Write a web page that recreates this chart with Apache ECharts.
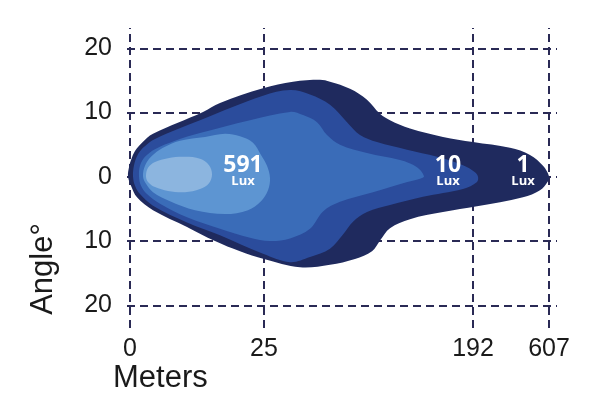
<!DOCTYPE html>
<html>
<head>
<meta charset="utf-8">
<script src="https://cdn.jsdelivr.net/npm/echarts@6/dist/echarts.min.js"></script>
<style>html,body{margin:0;padding:0;background:#fff}#c{width:600px;height:409px}</style>
</head>
<body>
<div id="c"></div>
<script>
// x tick positions (axis units) and their labels in meters
const meterLabels = ['0', '25', '192', '607'];
const meterPos = [0, 134, 343, 419];
// angle ticks (degrees)
const angleTicks = [-20, -10, 0, 10, 20];
// isolux labels
const luxValues = ['591', '10', '1'];
const luxX = [113, 318, 393];
const luxY = [0.9, 0.9, 0.9];

// contours: [distance position, angle in degrees]
const contour1Lux = [
  [-2,0.1],[-1,1.5],[1,2.6],[5,4.0],[12,5.3],[23,6.7],[73,10.1],[90,11.5],[133,13.8],[163,14.8],[190,15.1],[200,14.8],
  [220,13.7],[237,12.0],[250,9.8],[260,8.8],[280,7.5],[313,6.2],[343,5.4],[380,4.5],[400,3.4],[413,1.7],[419,0.1],
  [418,-0.7],[410,-2.1],[393,-3.2],[347,-4.6],[313,-5.5],[280,-6.6],[260,-8.0],[250,-9.9],[242,-11.6],[225,-12.8],
  [200,-13.7],[170,-14.1],[134,-12.8],[110,-11.6],[85,-10.0],[57,-7.8],[23,-5.2],[7,-3.2],[1,-1.4]
];
const contour10Lux = [
  [3,0.1],[4,1.8],[7,3.2],[13,4.5],[25,5.9],[70,8.8],[133,12.6],[160,13.5],[180,12.8],[200,11.2],[217,8.5],[230,6.5],
  [247,5.4],[277,4.2],[307,3.1],[333,1.8],[345,0.7],[348,0],
  [347,-0.8],[333,-1.9],[293,-3.1],[260,-4.4],[237,-5.5],[223,-7.0],[213,-9.0],[200,-11.2],[180,-12.5],[160,-13.3],
  [133,-12.0],[90,-9.1],[57,-7.1],[23,-4.5],[10,-2.7],[5,-1.4]
];
const contourMid = [
  [9,0.1],[10,1.7],[15,3.1],[25,4.3],[45,5.6],[70,6.8],[120,8.8],[160,10.1],[173,9.6],[187,8.5],[197,6.5],[210,5.0],
  [237,3.7],[270,2.6],[287,1.5],[294,0.1],
  [290,-0.3],[273,-1.0],[243,-2.4],[210,-3.9],[193,-5.4],[180,-8.1],[160,-9.6],[140,-10.0],[120,-9.5],[90,-8.1],
  [57,-6.3],[30,-4.2],[17,-2.7],[11,-1.4]
];
const contour591Lux = [
  [13,0.1],[15,1.7],[21,3.1],[33,4.5],[50,5.6],[75,6.2],[95,6.7],[110,6.3],[123,5.3],[131,3.4],[137,1.7],[140,-0.2],
  [138,-2.1],[131,-3.8],[118,-5.2],[95,-5.8],[65,-5.2],[40,-3.8],[23,-2.4],[16,-1.1]
];
const contourCore = [
  [16,0.1],[18,1.4],[25,2.3],[38,2.9],[55,3.1],[70,2.8],[79,1.8],[82,0.4],
  [79,-1.0],[70,-1.9],[55,-2.4],[38,-2.2],[25,-1.6],[18,-0.8]
];

const contours = [contour1Lux, contour10Lux, contourMid, contour591Lux, contourCore];
const colors = ['#1f2a5e', '#2b4c9c', '#3a6cb8', '#5d95d2', '#8cb5df'];

const chart = echarts.init(document.getElementById('c'));

const gridLine = { color: '#2a2a55', width: 2, type: [8, 5] };

const contourSeries = contours.map((ct, i) => ({
  type: 'custom',
  z: 5 + i,
  silent: true,
  data: ct,
  encode: { x: 0, y: 1 },
  renderItem: function (params, api) {
    if (params.dataIndex !== 0) return null;
    const pts = ct.map(p => api.coord(p));
    return { type: 'polygon', shape: { points: pts, smooth: 0.35 }, style: { fill: colors[i] } };
  }
}));

const option = {
  animation: false,
  backgroundColor: '#fff',
  grid: { left: 120, right: 40, top: 28, bottom: 81 },
  xAxis: {
    type: 'value', min: -10, max: 430,
    axisLine: { show: false }, axisTick: { show: false }, splitLine: { show: false },
    axisLabel: {
      customValues: meterPos,
      formatter: v => meterLabels[meterPos.indexOf(v)] ?? '',
      fontSize: 25, color: '#1a1a1a', fontFamily: 'Liberation Sans', margin: 9
    }
  },
  yAxis: {
    type: 'value', min: -23.54, max: 23.16,
    axisLine: { show: false }, axisTick: { show: false }, splitLine: { show: false },
    axisLabel: {
      customValues: angleTicks,
      formatter: v => String(Math.abs(v)),
      fontSize: 25, color: '#1a1a1a', fontFamily: 'Liberation Sans', margin: 8
    }
  },
  graphic: [
    { type: 'text', x: 113, y: 378, style: { text: 'Meters', fontSize: 31, fontFamily: 'Liberation Sans', fill: '#1a1a1a', textAlign: 'left', textVerticalAlign: 'middle' } },
    { type: 'text', x: 43, y: 269, rotation: Math.PI / 2, style: { text: 'Angle°', fontSize: 31, fontFamily: 'Liberation Sans', fill: '#1a1a1a', textAlign: 'center', textVerticalAlign: 'middle' } }
  ],
  series: [
    {
      type: 'line', data: [], z: 1, silent: true,
      markLine: {
        symbol: 'none', silent: true, animation: false,
        label: { show: false },
        lineStyle: gridLine,
        data: [
          ...meterPos.map(v => ({ xAxis: v })),
          ...angleTicks.map(v => [{ coord: [-3, v] }, { coord: [427, v] }])
        ]
      }
    },
    ...contourSeries,
    {
      type: 'scatter', z: 20, silent: true, symbolSize: 0,
      itemStyle: { opacity: 1 },
      data: luxValues.map((t, i) => [luxX[i], luxY[i], t]),
      label: {
        show: true, position: 'inside', opacity: 1,
        formatter: p => '{a|' + p.data[2] + '}\n{b|Lux}',
        rich: {
          a: { fontSize: 23, fontWeight: 'bold', color: '#ffffff', fontFamily: 'Open Sans', lineHeight: 20, align: 'center' },
          b: { fontSize: 13, fontWeight: 'bold', color: '#ffffff', fontFamily: 'Open Sans', lineHeight: 12, align: 'center' }
        }
      }
    }
  ]
};
chart.setOption(option);
</script>
</body>
</html>
